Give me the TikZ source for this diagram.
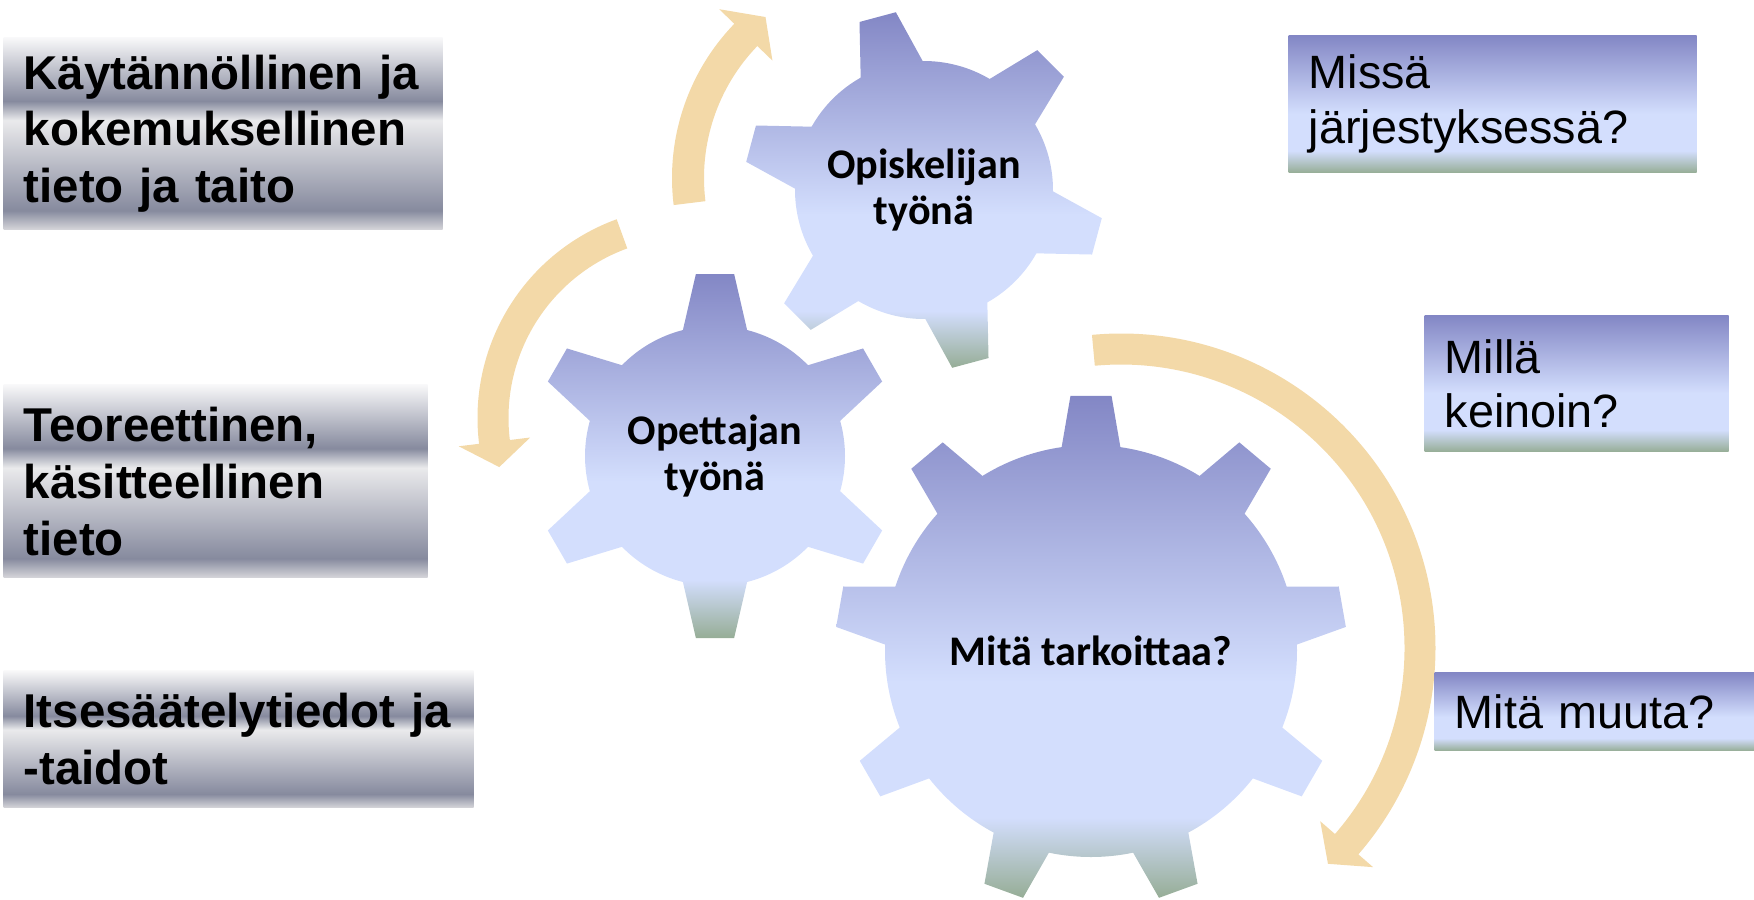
\documentclass[tikz,border=0pt]{standalone}
\usepackage{fontspec}
\setmainfont{Liberation Sans}
\newfontfamily\gearfamily{Carlito}
\usepackage{xcolor}
\usepackage{tikz}
\usetikzlibrary{calc, positioning}

\definecolor{geartop}{RGB}{131, 135, 197}
\definecolor{gearlight}{RGB}{211, 222, 253}
\definecolor{gearbot}{RGB}{150, 173, 150}
\definecolor{chrometop}{RGB}{248, 248, 249}
\definecolor{chromedark}{RGB}{134, 138, 158}
\definecolor{chromelight}{RGB}{234, 234, 236}
\definecolor{chromebot}{RGB}{214, 214, 218}
\definecolor{wheat}{RGB}{243, 217, 168}

\pgfdeclareverticalshading{bluegrad}{100bp}{color(0bp)=(gearbot); color(25bp)=(gearbot);
  color(33bp)=(gearlight); color(46.5bp)=(gearlight); color(75bp)=(geartop); color(100bp)=(geartop)}
\pgfdeclareverticalshading{chromegrad}{100bp}{color(0bp)=(chromebot); color(25bp)=(chromebot);
  color(30bp)=(chromedark); color(53.5bp)=(chromelight); color(58.5bp)=(chromedark);
  color(75bp)=(chrometop); color(100bp)=(chrometop)}

\tikzset{
    leftnode/.style = {rectangle, shading=chromegrad, anchor=north west, inner xsep=2mm, inner ysep=0mm,
      align=left, font=\fontsize{13.5}{16.2}\selectfont\bfseries},
    rightnode/.style = {rectangle, shading=bluegrad, anchor=north west, inner xsep=2mm, inner ysep=0mm,
      align=left, font=\fontsize{13.3}{15.6}\selectfont},
    geartext/.style = {draw=none, fill=none, align=center, inner sep=0em,
      font=\gearfamily\bfseries\fontsize{12}{13}\selectfont},
    gearbody/.style = {shading=bluegrad},
    turnarrow/.style = {fill=wheat, draw=none}
}

% center, teeth, first tooth, body radius, tip radius, base half angle, tip half angle
\newcommand{\drawgear}[7]{%
  \pgfmathsetmacro{\gstep}{360/#2}
  \shade[gearbody, shift={#1}] ({#3-#6}:#4)
    \foreach \k in {1,...,#2} {
      -- ({#3+(\k-1)*\gstep-#7}:#5) -- ({#3+(\k-1)*\gstep+#7}:#5)
      -- ({#3+(\k-1)*\gstep+#6}:#4)
      arc[start angle={#3+(\k-1)*\gstep+#6}, end angle={#3+\k*\gstep-#6}, radius=#4]
    } -- cycle;
}

% center, radius, start, end, half width, head half width, head angle
\newcommand{\bentarrow}[7]{%
  \pgfmathsetmacro{\tipangle}{#4+sign(#4-#3)*#7}
  \fill[turnarrow, shift={#1}] ({#3}:{#2+#5}) arc[start angle=#3, end angle=#4, radius=#2+#5]
    -- ({#4}:{#2+#6}) -- ({\tipangle}:{#2}) -- ({#4}:{#2-#6}) -- ({#4}:{#2-#5})
    arc[start angle=#4, end angle=#3, radius=#2-#5] -- cycle;
}

\begin{document}
\begin{tikzpicture}[x=0.1mm, y=0.1mm]
    \useasboundingbox (0,0) rectangle (1754,-899);

    % turning arrows
    \coordinate (arcA) at (894,-178);
    \coordinate (arcB) at (689,-418);
    \coordinate (arcC) at (1121,-648);
    \bentarrow{(arcA)}{206}{187}{136}{16}{37}{7.4}
    \bentarrow{(arcB)}{196}{110}{187}{15.5}{36}{7.5}
    \bentarrow{(arcC)}{299}{95.3}{-41}{15.5}{35}{5.2}

    % gears
    \coordinate (opisk) at (924,-190);
    \coordinate (opett) at (715,-456);
    \coordinate (mita) at (1091,-651);
    \drawgear{(opisk)}{6}{45}{129}{180}{14.4}{6.0}
    \drawgear{(opett)}{6}{30}{130}{183}{14.3}{6.0}
    \drawgear{(mita)}{9}{90}{206}{256}{8.2}{4.6}

    \node [name=opisktext, geartext] at (opisk) {Opiskelijan\\työnä};
    \node [name=opetttext, geartext] at (opett) {Opettajan\\työnä};
    \node [name=mitatext, geartext] at (mita) {Mitä tarkoittaa?};

    % knowledge boxes
    \node [name=kaytanto, leftnode, minimum width=43.9mm, minimum height=19.2mm, text width=39.9mm]
        at (3,-37) {Käytännöllinen ja\\kokemuksellinen\\tieto ja taito};
    \node [name=teoria, leftnode, minimum width=42.4mm, minimum height=19.3mm, text width=38.4mm]
        at (3,-384) {Teoreettinen,\\käsitteellinen\\tieto};
    \node [name=itsesaat, leftnode, minimum width=47.0mm, minimum height=13.7mm, text width=43.0mm]
        at (3,-670) {Itsesäätelytiedot ja\\-taidot};

    % question boxes
    \node [name=missa, rightnode, minimum width=40.8mm, minimum height=13.7mm, text width=36.8mm]
        at (1288,-35) {Missä\\järjestyksessä?};
    \node [name=milla, rightnode, minimum width=30.4mm, minimum height=13.6mm, text width=26.4mm]
        at (1424,-315) {Millä\\keinoin?};
    \node [name=muuta, rightnode, minimum width=32.0mm, minimum height=7.8mm, text width=28.0mm]
        at (1434,-672) {Mitä muuta?};
\end{tikzpicture}
\end{document}
